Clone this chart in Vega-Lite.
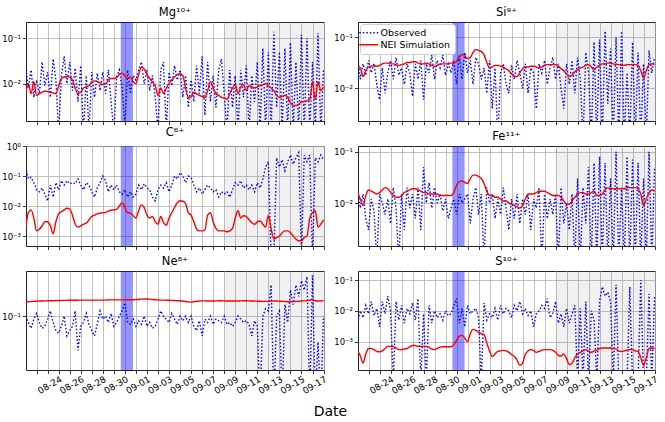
{
"$schema": "https://vega.github.io/schema/vega-lite/v6.json",
"padding": {"left": 1, "top": 6, "right": 9, "bottom": 6},
"bounds": "flush",
"columns": 2,
"spacing": {"row": 25, "column": 34},
"resolve": {"scale": {"color": "independent", "strokeDash": "independent"}},
"title": {"text": "Date", "orient": "bottom", "anchor": "middle", "fontSize": 14, "fontWeight": "normal", "offset": 9, "color": "#000"},
"config": {
  "font": "DejaVu Sans",
  "view": {"stroke": "#222", "strokeWidth": 1},
  "axis": {"labelColor": "#000", "tickColor": "#000", "gridColor": "#b0b0b0", "gridWidth": 0.8, "tickSize": 3.5, "tickWidth": 0.8, "labelFontSize": 8.5, "labelPadding": 2, "domain": false, "title": null, "labelOverlap": false, "labelBound": false},
  "axisX": {"labelOverlap": false, "tickCount": 40},
  "title": {"fontSize": 11.5, "fontWeight": "normal", "offset": 4, "color": "#000"},
  "legend": {"fillColor": "white", "strokeColor": "#cccccc", "cornerRadius": 3, "padding": 4, "labelFontSize": 9.5, "symbolSize": 49, "symbolType": "M-2.7,0H2.7", "symbolStrokeWidth": 1.5, "rowPadding": 1, "offset": 2, "labelLimit": 200, "labelColor": "#000", "labelOffset": 7}
},
"datasets": {
"gray": [{"a": "2020-09-08T00:00Z", "b": "2020-09-17T12:00Z"}],
"band": [{"a": "2020-08-29T15:00Z", "b": "2020-08-30T17:30Z"}],
"ions": [
{"t":"2020-08-21T00:00Z","Mg":0.025,"Mg_s":0.006,"Si":0.045,"Si_s":0.026,"C":0.2,"C_s":0.0017,"Fe":0.02,"Fe_s":0.016,"Ne":0.1,"Ne_s":0.165,"S":0.004,"S_s":0.0005},
{"t":"2020-08-21T06:00Z","Mg":0.008,"Mg_s":0.01,"Si":0.015,"Si_s":0.025,"C":0.08,"C_s":0.006,"Fe":0.008,"Fe_s":0.012,"Ne":0.08,"Ne_s":0.166,"S":0.01,"S_s":0.00035},
{"t":"2020-08-21T12:00Z","Mg":0.02,"Mg_s":0.006,"Si":0.03,"Si_s":0.017,"C":0.09,"C_s":0.0075,"Fe":0.015,"Fe_s":0.009,"Ne":0.065,"Ne_s":0.167,"S":0.006,"S_s":0.0002},
{"t":"2020-08-21T18:00Z","Mg":0.005,"Mg_s":0.011,"Si":0.018,"Si_s":0.022,"C":0.06,"C_s":0.004,"Fe":0.005,"Fe_s":0.014,"Ne":0.09,"Ne_s":0.168,"S":0.015,"S_s":0.0004},
{"t":"2020-08-22T00:00Z","Mg":0.012,"Mg_s":0.0055,"Si":0.035,"Si_s":0.026,"C":0.035,"C_s":0.0015,"Fe":0.003,"Fe_s":0.018,"Ne":0.11,"Ne_s":0.169,"S":0.008,"S_s":0.0006},
{"t":"2020-08-22T06:00Z","Mg":0.006,"Mg_s":0.006,"Si":0.02,"Si_s":0.027,"C":0.03,"C_s":0.0017,"Fe":0.012,"Fe_s":0.017,"Ne":0.08,"Ne_s":0.17,"S":0.02,"S_s":0.0006},
{"t":"2020-08-22T12:00Z","Mg":0.03,"Mg_s":0.0065,"Si":0.03,"Si_s":0.028,"C":0.04,"C_s":0.0022,"Fe":0.007,"Fe_s":0.016,"Ne":0.065,"Ne_s":0.17,"S":0.007,"S_s":0.00055},
{"t":"2020-08-22T18:00Z","Mg":0.009,"Mg_s":0.0068,"Si":0.012,"Si_s":0.027,"C":0.025,"C_s":0.003,"Fe":0.0007,"Fe_s":0.015,"Ne":0.07,"Ne_s":0.171,"S":0.012,"S_s":0.00048},
{"t":"2020-08-23T00:00Z","Mg":0.018,"Mg_s":0.0067,"Si":0.006,"Si_s":0.028,"C":0.015,"C_s":0.003,"Fe":0.015,"Fe_s":0.016,"Ne":0.09,"Ne_s":0.172,"S":0.003,"S_s":0.00047},
{"t":"2020-08-23T06:00Z","Mg":0.005,"Mg_s":0.0065,"Si":0.025,"Si_s":0.03,"C":0.05,"C_s":0.0022,"Fe":0.01,"Fe_s":0.018,"Ne":0.12,"Ne_s":0.172,"S":0.02,"S_s":0.0005},
{"t":"2020-08-23T12:00Z","Mg":0.035,"Mg_s":0.0062,"Si":0.008,"Si_s":0.031,"C":0.02,"C_s":0.0012,"Fe":0.006,"Fe_s":0.02,"Ne":0.08,"Ne_s":0.172,"S":0.008,"S_s":0.0006},
{"t":"2020-08-23T18:00Z","Mg":0.012,"Mg_s":0.006,"Si":0.02,"Si_s":0.031,"C":0.06,"C_s":0.003,"Fe":0.012,"Fe_s":0.019,"Ne":0.06,"Ne_s":0.173,"S":0.03,"S_s":0.0007},
{"t":"2020-08-24T00:00Z","Mg":0.0008,"Mg_s":0.009,"Si":0.035,"Si_s":0.03,"C":0.035,"C_s":0.0055,"Fe":0.004,"Fe_s":0.016,"Ne":0.055,"Ne_s":0.173,"S":0.01,"S_s":0.0007},
{"t":"2020-08-24T06:00Z","Mg":0.015,"Mg_s":0.013,"Si":0.015,"Si_s":0.03,"C":0.07,"C_s":0.0065,"Fe":0.02,"Fe_s":0.014,"Ne":0.07,"Ne_s":0.174,"S":0.00005,"S_s":0.00068},
{"t":"2020-08-24T12:00Z","Mg":0.04,"Mg_s":0.014,"Si":0.04,"Si_s":0.029,"C":0.05,"C_s":0.0075,"Fe":0.008,"Fe_s":0.013,"Ne":0.1,"Ne_s":0.174,"S":0.02,"S_s":0.00062},
{"t":"2020-08-24T18:00Z","Mg":0.01,"Mg_s":0.0145,"Si":0.018,"Si_s":0.028,"C":0.07,"C_s":0.0085,"Fe":0.0007,"Fe_s":0.013,"Ne":0.05,"Ne_s":0.174,"S":0.005,"S_s":0.00055},
{"t":"2020-08-25T00:00Z","Mg":0.03,"Mg_s":0.014,"Si":0.025,"Si_s":0.029,"C":0.055,"C_s":0.008,"Fe":0.015,"Fe_s":0.014,"Ne":0.06,"Ne_s":0.175,"S":0.015,"S_s":0.00055},
{"t":"2020-08-25T06:00Z","Mg":0.007,"Mg_s":0.012,"Si":0.012,"Si_s":0.03,"C":0.06,"C_s":0.005,"Fe":0.003,"Fe_s":0.016,"Ne":0.07,"Ne_s":0.175,"S":0.004,"S_s":0.00058},
{"t":"2020-08-25T12:00Z","Mg":0.022,"Mg_s":0.008,"Si":0.03,"Si_s":0.032,"C":0.055,"C_s":0.0025,"Fe":0.02,"Fe_s":0.017,"Ne":0.12,"Ne_s":0.175,"S":0.012,"S_s":0.0006},
{"t":"2020-08-25T18:00Z","Mg":0.004,"Mg_s":0.006,"Si":0.02,"Si_s":0.032,"C":0.08,"C_s":0.002,"Fe":0.008,"Fe_s":0.018,"Ne":0.03,"Ne_s":0.175,"S":0.008,"S_s":0.00068},
{"t":"2020-08-26T00:00Z","Mg":0.025,"Mg_s":0.0065,"Si":0.007,"Si_s":0.033,"C":0.05,"C_s":0.0022,"Fe":0.015,"Fe_s":0.019,"Ne":0.07,"Ne_s":0.176,"S":0.018,"S_s":0.00075},
{"t":"2020-08-26T06:00Z","Mg":0.0008,"Mg_s":0.008,"Si":0.03,"Si_s":0.033,"C":0.035,"C_s":0.0025,"Fe":0.005,"Fe_s":0.019,"Ne":0.08,"Ne_s":0.176,"S":0.005,"S_s":0.00075},
{"t":"2020-08-26T12:00Z","Mg":0.015,"Mg_s":0.0085,"Si":0.015,"Si_s":0.031,"C":0.06,"C_s":0.0027,"Fe":0.02,"Fe_s":0.018,"Ne":0.11,"Ne_s":0.176,"S":0.025,"S_s":0.0007},
{"t":"2020-08-26T18:00Z","Mg":0.0009,"Mg_s":0.009,"Si":0.035,"Si_s":0.03,"C":0.05,"C_s":0.0035,"Fe":0.003,"Fe_s":0.017,"Ne":0.075,"Ne_s":0.176,"S":0.00005,"S_s":0.0007},
{"t":"2020-08-27T00:00Z","Mg":0.018,"Mg_s":0.011,"Si":0.006,"Si_s":0.03,"C":0.03,"C_s":0.0045,"Fe":0.05,"Fe_s":0.016,"Ne":0.06,"Ne_s":0.176,"S":0.008,"S_s":0.0007},
{"t":"2020-08-27T06:00Z","Mg":0.005,"Mg_s":0.0115,"Si":0.03,"Si_s":0.031,"C":0.02,"C_s":0.005,"Fe":0.01,"Fe_s":0.016,"Ne":0.05,"Ne_s":0.176,"S":0.00005,"S_s":0.0007},
{"t":"2020-08-27T12:00Z","Mg":0.017,"Mg_s":0.011,"Si":0.02,"Si_s":0.03,"C":0.04,"C_s":0.0055,"Fe":0.025,"Fe_s":0.015,"Ne":0.075,"Ne_s":0.176,"S":0.015,"S_s":0.00065},
{"t":"2020-08-27T18:00Z","Mg":0.007,"Mg_s":0.0105,"Si":0.045,"Si_s":0.028,"C":0.06,"C_s":0.0058,"Fe":0.008,"Fe_s":0.015,"Ne":0.12,"Ne_s":0.176,"S":0.004,"S_s":0.00057},
{"t":"2020-08-28T00:00Z","Mg":0.018,"Mg_s":0.0095,"Si":0.015,"Si_s":0.027,"C":0.1,"C_s":0.006,"Fe":0.02,"Fe_s":0.015,"Ne":0.09,"Ne_s":0.176,"S":0.01,"S_s":0.00055},
{"t":"2020-08-28T06:00Z","Mg":0.006,"Mg_s":0.01,"Si":0.035,"Si_s":0.028,"C":0.07,"C_s":0.0062,"Fe":0.01,"Fe_s":0.015,"Ne":0.1,"Ne_s":0.176,"S":0.006,"S_s":0.0006},
{"t":"2020-08-28T12:00Z","Mg":0.02,"Mg_s":0.012,"Si":0.025,"Si_s":0.03,"C":0.03,"C_s":0.0068,"Fe":0.015,"Fe_s":0.014,"Ne":0.08,"Ne_s":0.177,"S":0.008,"S_s":0.00066},
{"t":"2020-08-28T18:00Z","Mg":0.004,"Mg_s":0.013,"Si":0.045,"Si_s":0.03,"C":0.05,"C_s":0.0073,"Fe":0.007,"Fe_s":0.014,"Ne":0.11,"Ne_s":0.177,"S":0.005,"S_s":0.00068},
{"t":"2020-08-29T00:00Z","Mg":0.0009,"Mg_s":0.013,"Si":0.018,"Si_s":0.03,"C":0.035,"C_s":0.0075,"Fe":0.012,"Fe_s":0.014,"Ne":0.07,"Ne_s":0.177,"S":0.01,"S_s":0.00068},
{"t":"2020-08-29T06:00Z","Mg":0.014,"Mg_s":0.0135,"Si":0.03,"Si_s":0.03,"C":0.05,"C_s":0.0078,"Fe":0.005,"Fe_s":0.014,"Ne":0.08,"Ne_s":0.177,"S":0.007,"S_s":0.00068},
{"t":"2020-08-29T12:00Z","Mg":0.02,"Mg_s":0.016,"Si":0.02,"Si_s":0.031,"C":0.03,"C_s":0.01,"Fe":0.008,"Fe_s":0.014,"Ne":0.1,"Ne_s":0.177,"S":0.008,"S_s":0.00068},
{"t":"2020-08-29T18:00Z","Mg":0.008,"Mg_s":0.017,"Si":0.035,"Si_s":0.031,"C":0.025,"C_s":0.013,"Fe":0.012,"Fe_s":0.016,"Ne":0.12,"Ne_s":0.177,"S":0.015,"S_s":0.0008},
{"t":"2020-08-30T00:00Z","Mg":0.0012,"Mg_s":0.015,"Si":0.012,"Si_s":0.034,"C":0.035,"C_s":0.009,"Fe":0.006,"Fe_s":0.022,"Ne":0.16,"Ne_s":0.178,"S":0.025,"S_s":0.0011},
{"t":"2020-08-30T06:00Z","Mg":0.02,"Mg_s":0.013,"Si":0.045,"Si_s":0.04,"C":0.02,"C_s":0.006,"Fe":0.015,"Fe_s":0.026,"Ne":0.08,"Ne_s":0.178,"S":0.004,"S_s":0.0015},
{"t":"2020-08-30T12:00Z","Mg":0.006,"Mg_s":0.014,"Si":0.015,"Si_s":0.046,"C":0.03,"C_s":0.0058,"Fe":0.01,"Fe_s":0.027,"Ne":0.075,"Ne_s":0.178,"S":0.012,"S_s":0.0016},
{"t":"2020-08-30T18:00Z","Mg":0.015,"Mg_s":0.011,"Si":0.05,"Si_s":0.043,"C":0.02,"C_s":0.0048,"Fe":0.012,"Fe_s":0.025,"Ne":0.09,"Ne_s":0.178,"S":0.003,"S_s":0.0013},
{"t":"2020-08-31T00:00Z","Mg":0.012,"Mg_s":0.01,"Si":0.02,"Si_s":0.038,"C":0.025,"C_s":0.004,"Fe":0.015,"Fe_s":0.024,"Ne":0.07,"Ne_s":0.179,"S":0.015,"S_s":0.001},
{"t":"2020-08-31T06:00Z","Mg":0.02,"Mg_s":0.016,"Si":0.035,"Si_s":0.04,"C":0.05,"C_s":0.007,"Fe":0.004,"Fe_s":0.03,"Ne":0.085,"Ne_s":0.18,"S":0.008,"S_s":0.0018},
{"t":"2020-08-31T12:00Z","Mg":0.03,"Mg_s":0.023,"Si":0.012,"Si_s":0.05,"C":0.035,"C_s":0.011,"Fe":0.012,"Fe_s":0.035,"Ne":0.075,"Ne_s":0.182,"S":0.01,"S_s":0.0025},
{"t":"2020-08-31T18:00Z","Mg":0.01,"Mg_s":0.021,"Si":0.04,"Si_s":0.057,"C":0.055,"C_s":0.009,"Fe":0.02,"Fe_s":0.035,"Ne":0.1,"Ne_s":0.183,"S":0.012,"S_s":0.0023},
{"t":"2020-09-01T00:00Z","Mg":0.02,"Mg_s":0.016,"Si":0.03,"Si_s":0.055,"C":0.04,"C_s":0.005,"Fe":0.006,"Fe_s":0.033,"Ne":0.07,"Ne_s":0.183,"S":0.006,"S_s":0.002},
{"t":"2020-09-01T06:00Z","Mg":0.007,"Mg_s":0.013,"Si":0.015,"Si_s":0.052,"C":0.035,"C_s":0.004,"Fe":0.015,"Fe_s":0.03,"Ne":0.08,"Ne_s":0.182,"S":0.00005,"S_s":0.0018},
{"t":"2020-09-01T12:00Z","Mg":0.015,"Mg_s":0.011,"Si":0.025,"Si_s":0.045,"C":0.02,"C_s":0.0045,"Fe":0.0007,"Fe_s":0.024,"Ne":0.065,"Ne_s":0.18,"S":0.018,"S_s":0.0017},
{"t":"2020-09-01T18:00Z","Mg":0.005,"Mg_s":0.009,"Si":0.008,"Si_s":0.032,"C":0.015,"C_s":0.003,"Fe":0.02,"Fe_s":0.017,"Ne":0.07,"Ne_s":0.178,"S":0.005,"S_s":0.0009},
{"t":"2020-09-02T00:00Z","Mg":0.0009,"Mg_s":0.0055,"Si":0.035,"Si_s":0.025,"C":0.035,"C_s":0.0025,"Fe":0.01,"Fe_s":0.014,"Ne":0.09,"Ne_s":0.177,"S":0.008,"S_s":0.0005},
{"t":"2020-09-02T06:00Z","Mg":0.02,"Mg_s":0.008,"Si":0.004,"Si_s":0.026,"C":0.05,"C_s":0.0045,"Fe":0.015,"Fe_s":0.014,"Ne":0.12,"Ne_s":0.176,"S":0.006,"S_s":0.00033},
{"t":"2020-09-02T12:00Z","Mg":0.03,"Mg_s":0.006,"Si":0.025,"Si_s":0.028,"C":0.04,"C_s":0.0028,"Fe":0.005,"Fe_s":0.013,"Ne":0.1,"Ne_s":0.176,"S":0.012,"S_s":0.0004},
{"t":"2020-09-02T18:00Z","Mg":0.0009,"Mg_s":0.008,"Si":0.001,"Si_s":0.028,"C":0.06,"C_s":0.0023,"Fe":0.012,"Fe_s":0.013,"Ne":0.09,"Ne_s":0.175,"S":0.005,"S_s":0.00048},
{"t":"2020-09-03T00:00Z","Mg":0.018,"Mg_s":0.01,"Si":0.02,"Si_s":0.027,"C":0.03,"C_s":0.004,"Fe":0.006,"Fe_s":0.012,"Ne":0.08,"Ne_s":0.175,"S":0.015,"S_s":0.0005},
{"t":"2020-09-03T06:00Z","Mg":0.009,"Mg_s":0.012,"Si":0.03,"Si_s":0.026,"C":0.05,"C_s":0.006,"Fe":0.02,"Fe_s":0.011,"Ne":0.11,"Ne_s":0.174,"S":0.008,"S_s":0.00052},
{"t":"2020-09-03T12:00Z","Mg":0.025,"Mg_s":0.014,"Si":0.012,"Si_s":0.024,"C":0.1,"C_s":0.009,"Fe":0.008,"Fe_s":0.011,"Ne":0.09,"Ne_s":0.173,"S":0.012,"S_s":0.0005},
{"t":"2020-09-03T18:00Z","Mg":0.012,"Mg_s":0.016,"Si":0.008,"Si_s":0.022,"C":0.08,"C_s":0.013,"Fe":0.003,"Fe_s":0.01,"Ne":0.075,"Ne_s":0.172,"S":0.01,"S_s":0.00045},
{"t":"2020-09-04T00:00Z","Mg":0.02,"Mg_s":0.0165,"Si":0.028,"Si_s":0.019,"C":0.13,"C_s":0.015,"Fe":0.012,"Fe_s":0.0095,"Ne":0.1,"Ne_s":0.172,"S":0.006,"S_s":0.00038},
{"t":"2020-09-04T06:00Z","Mg":0.005,"Mg_s":0.015,"Si":0.015,"Si_s":0.017,"C":0.1,"C_s":0.0145,"Fe":0.005,"Fe_s":0.009,"Ne":0.085,"Ne_s":0.17,"S":0.015,"S_s":0.00033},
{"t":"2020-09-04T12:00Z","Mg":0.015,"Mg_s":0.008,"Si":0.035,"Si_s":0.017,"C":0.06,"C_s":0.012,"Fe":0.015,"Fe_s":0.0085,"Ne":0.1,"Ne_s":0.167,"S":0.01,"S_s":0.00025},
{"t":"2020-09-04T18:00Z","Mg":0.003,"Mg_s":0.005,"Si":0.02,"Si_s":0.02,"C":0.1,"C_s":0.006,"Fe":0.004,"Fe_s":0.008,"Ne":0.08,"Ne_s":0.165,"S":0.02,"S_s":0.00017},
{"t":"2020-09-05T00:00Z","Mg":0.012,"Mg_s":0.0052,"Si":0.01,"Si_s":0.024,"C":0.09,"C_s":0.005,"Fe":0.012,"Fe_s":0.009,"Ne":0.1,"Ne_s":0.164,"S":0.008,"S_s":0.0002},
{"t":"2020-09-05T06:00Z","Mg":0.004,"Mg_s":0.0065,"Si":0.03,"Si_s":0.026,"C":0.05,"C_s":0.003,"Fe":0.006,"Fe_s":0.012,"Ne":0.07,"Ne_s":0.166,"S":0.012,"S_s":0.00038},
{"t":"2020-09-05T12:00Z","Mg":0.025,"Mg_s":0.006,"Si":0.008,"Si_s":0.026,"C":0.03,"C_s":0.0017,"Fe":0.015,"Fe_s":0.015,"Ne":0.06,"Ne_s":0.168,"S":0.007,"S_s":0.0005},
{"t":"2020-09-05T18:00Z","Mg":0.006,"Mg_s":0.0055,"Si":0.025,"Si_s":0.027,"C":0.04,"C_s":0.0015,"Fe":0.003,"Fe_s":0.015,"Ne":0.085,"Ne_s":0.17,"S":0.01,"S_s":0.00055},
{"t":"2020-09-06T00:00Z","Mg":0.04,"Mg_s":0.0052,"Si":0.02,"Si_s":0.027,"C":0.025,"C_s":0.0015,"Fe":0.012,"Fe_s":0.015,"Ne":0.05,"Ne_s":0.171,"S":0.003,"S_s":0.00052},
{"t":"2020-09-06T06:00Z","Mg":0.002,"Mg_s":0.005,"Si":0.004,"Si_s":0.026,"C":0.035,"C_s":0.0016,"Fe":0.008,"Fe_s":0.016,"Ne":0.09,"Ne_s":0.171,"S":0.008,"S_s":0.00045},
{"t":"2020-09-06T12:00Z","Mg":0.03,"Mg_s":0.007,"Si":0.03,"Si_s":0.025,"C":0.05,"C_s":0.005,"Fe":0.02,"Fe_s":0.017,"Ne":0.08,"Ne_s":0.17,"S":0.01,"S_s":0.00048},
{"t":"2020-09-06T18:00Z","Mg":0.004,"Mg_s":0.011,"Si":0.02,"Si_s":0.026,"C":0.04,"C_s":0.006,"Fe":0.0007,"Fe_s":0.017,"Ne":0.1,"Ne_s":0.17,"S":0.015,"S_s":0.00053},
{"t":"2020-09-07T00:00Z","Mg":0.015,"Mg_s":0.008,"Si":0.035,"Si_s":0.028,"C":0.03,"C_s":0.003,"Fe":0.015,"Fe_s":0.017,"Ne":0.075,"Ne_s":0.17,"S":0.012,"S_s":0.00055},
{"t":"2020-09-07T06:00Z","Mg":0.003,"Mg_s":0.006,"Si":0.012,"Si_s":0.029,"C":0.035,"C_s":0.0018,"Fe":0.005,"Fe_s":0.016,"Ne":0.09,"Ne_s":0.171,"S":0.025,"S_s":0.00055},
{"t":"2020-09-07T12:00Z","Mg":0.02,"Mg_s":0.0055,"Si":0.025,"Si_s":0.029,"C":0.02,"C_s":0.0015,"Fe":0.012,"Fe_s":0.015,"Ne":0.085,"Ne_s":0.172,"S":0.006,"S_s":0.00055},
{"t":"2020-09-07T18:00Z","Mg":0.035,"Mg_s":0.005,"Si":0.04,"Si_s":0.029,"C":0.03,"C_s":0.0015,"Fe":0.006,"Fe_s":0.014,"Ne":0.08,"Ne_s":0.172,"S":0.008,"S_s":0.00052},
{"t":"2020-09-08T00:00Z","Mg":0.006,"Mg_s":0.0048,"Si":0.015,"Si_s":0.029,"C":0.025,"C_s":0.0015,"Fe":0.015,"Fe_s":0.014,"Ne":0.1,"Ne_s":0.171,"S":0.02,"S_s":0.00045},
{"t":"2020-09-08T06:00Z","Mg":0.0009,"Mg_s":0.0045,"Si":0.03,"Si_s":0.027,"C":0.03,"C_s":0.0014,"Fe":0.0007,"Fe_s":0.014,"Ne":0.075,"Ne_s":0.17,"S":0.004,"S_s":0.00036},
{"t":"2020-09-08T12:00Z","Mg":0.02,"Mg_s":0.006,"Si":0.01,"Si_s":0.024,"C":0.02,"C_s":0.0015,"Fe":0.02,"Fe_s":0.013,"Ne":0.08,"Ne_s":0.17,"S":0.008,"S_s":0.00034},
{"t":"2020-09-08T18:00Z","Mg":0.003,"Mg_s":0.008,"Si":0.004,"Si_s":0.022,"C":0.035,"C_s":0.0018,"Fe":0.004,"Fe_s":0.011,"Ne":0.07,"Ne_s":0.17,"S":0.003,"S_s":0.0004},
{"t":"2020-09-09T00:00Z","Mg":0.015,"Mg_s":0.0095,"Si":0.03,"Si_s":0.019,"C":0.06,"C_s":0.004,"Fe":0.01,"Fe_s":0.0095,"Ne":0.08,"Ne_s":0.17,"S":0.012,"S_s":0.00028},
{"t":"2020-09-09T06:00Z","Mg":0.0009,"Mg_s":0.006,"Si":0.012,"Si_s":0.017,"C":0.05,"C_s":0.007,"Fe":0.003,"Fe_s":0.0095,"Ne":0.1,"Ne_s":0.17,"S":0.004,"S_s":0.00018},
{"t":"2020-09-09T12:00Z","Mg":0.02,"Mg_s":0.0085,"Si":0.035,"Si_s":0.018,"C":0.07,"C_s":0.004,"Fe":0.015,"Fe_s":0.011,"Ne":0.09,"Ne_s":0.171,"S":0.008,"S_s":0.0002},
{"t":"2020-09-09T18:00Z","Mg":0.005,"Mg_s":0.0095,"Si":0.008,"Si_s":0.021,"C":0.04,"C_s":0.0048,"Fe":0.0007,"Fe_s":0.013,"Ne":0.08,"Ne_s":0.172,"S":0.015,"S_s":0.0003},
{"t":"2020-09-10T00:00Z","Mg":0.025,"Mg_s":0.007,"Si":0.04,"Si_s":0.023,"C":0.05,"C_s":0.0045,"Fe":0.03,"Fe_s":0.015,"Ne":0.085,"Ne_s":0.172,"S":0.00005,"S_s":0.0004},
{"t":"2020-09-10T06:00Z","Mg":0.0009,"Mg_s":0.009,"Si":0.015,"Si_s":0.025,"C":0.035,"C_s":0.0035,"Fe":0.0007,"Fe_s":0.016,"Ne":0.075,"Ne_s":0.171,"S":0.012,"S_s":0.00045},
{"t":"2020-09-10T12:00Z","Mg":0.015,"Mg_s":0.0085,"Si":0.001,"Si_s":0.026,"C":0.05,"C_s":0.0028,"Fe":0.02,"Fe_s":0.016,"Ne":0.05,"Ne_s":0.17,"S":0.00005,"S_s":0.0005},
{"t":"2020-09-10T18:00Z","Mg":0.004,"Mg_s":0.008,"Si":0.05,"Si_s":0.028,"C":0.03,"C_s":0.0025,"Fe":0.004,"Fe_s":0.015,"Ne":0.085,"Ne_s":0.17,"S":0.02,"S_s":0.00055},
{"t":"2020-09-11T00:00Z","Mg":0.03,"Mg_s":0.0085,"Si":0.02,"Si_s":0.029,"C":0.06,"C_s":0.003,"Fe":0.05,"Fe_s":0.015,"Ne":0.07,"Ne_s":0.169,"S":0.00005,"S_s":0.00048},
{"t":"2020-09-11T06:00Z","Mg":0.0009,"Mg_s":0.009,"Si":0.001,"Si_s":0.026,"C":0.04,"C_s":0.0032,"Fe":0.0007,"Fe_s":0.016,"Ne":0.005,"Ne_s":0.169,"S":0.01,"S_s":0.00045},
{"t":"2020-09-11T12:00Z","Mg":0.06,"Mg_s":0.0095,"Si":0.08,"Si_s":0.023,"C":0.08,"C_s":0.0025,"Fe":0.06,"Fe_s":0.017,"Ne":0.1,"Ne_s":0.168,"S":0.005,"S_s":0.0005},
{"t":"2020-09-11T18:00Z","Mg":0.0009,"Mg_s":0.01,"Si":0.001,"Si_s":0.026,"C":0.2,"C_s":0.002,"Fe":0.0007,"Fe_s":0.014,"Ne":0.13,"Ne_s":0.168,"S":0.00005,"S_s":0.00052},
{"t":"2020-09-12T00:00Z","Mg":0.05,"Mg_s":0.009,"Si":0.09,"Si_s":0.028,"C":0.3,"C_s":0.005,"Fe":0.08,"Fe_s":0.014,"Ne":0.12,"Ne_s":0.168,"S":0.02,"S_s":0.0006},
{"t":"2020-09-12T06:00Z","Mg":0.0009,"Mg_s":0.008,"Si":0.001,"Si_s":0.03,"C":0.0002,"C_s":0.0018,"Fe":0.0007,"Fe_s":0.015,"Ne":0.3,"Ne_s":0.169,"S":0.06,"S_s":0.00062},
{"t":"2020-09-12T12:00Z","Mg":0.14,"Mg_s":0.007,"Si":0.13,"Si_s":0.03,"C":0.0002,"C_s":0.0008,"Fe":0.06,"Fe_s":0.018,"Ne":0.005,"Ne_s":0.17,"S":0.03,"S_s":0.00062},
{"t":"2020-09-12T18:00Z","Mg":0.003,"Mg_s":0.0055,"Si":0.005,"Si_s":0.031,"C":0.4,"C_s":0.0009,"Fe":0.0007,"Fe_s":0.02,"Ne":0.1,"Ne_s":0.17,"S":0.04,"S_s":0.00062},
{"t":"2020-09-13T00:00Z","Mg":0.05,"Mg_s":0.005,"Si":0.06,"Si_s":0.031,"C":0.2,"C_s":0.001,"Fe":0.03,"Fe_s":0.019,"Ne":0.12,"Ne_s":0.169,"S":0.02,"S_s":0.00062},
{"t":"2020-09-13T06:00Z","Mg":0.0009,"Mg_s":0.0052,"Si":0.001,"Si_s":0.03,"C":0.35,"C_s":0.0013,"Fe":0.0007,"Fe_s":0.019,"Ne":0.005,"Ne_s":0.168,"S":0.00005,"S_s":0.0006},
{"t":"2020-09-13T12:00Z","Mg":0.06,"Mg_s":0.0055,"Si":0.1,"Si_s":0.029,"C":0.15,"C_s":0.0015,"Fe":0.1,"Fe_s":0.019,"Ne":0.15,"Ne_s":0.167,"S":0.07,"S_s":0.00058},
{"t":"2020-09-13T18:00Z","Mg":0.0009,"Mg_s":0.005,"Si":0.001,"Si_s":0.029,"C":0.3,"C_s":0.0015,"Fe":0.0007,"Fe_s":0.019,"Ne":0.08,"Ne_s":0.166,"S":0.00005,"S_s":0.0005},
{"t":"2020-09-14T00:00Z","Mg":0.08,"Mg_s":0.0038,"Si":0.13,"Si_s":0.028,"C":0.5,"C_s":0.0013,"Fe":0.02,"Fe_s":0.019,"Ne":0.25,"Ne_s":0.166,"S":0.00005,"S_s":0.00048},
{"t":"2020-09-14T06:00Z","Mg":0.0009,"Mg_s":0.0033,"Si":0.001,"Si_s":0.028,"C":0.25,"C_s":0.001,"Fe":0.0007,"Fe_s":0.019,"Ne":0.15,"Ne_s":0.167,"S":0.00005,"S_s":0.0005},
{"t":"2020-09-14T12:00Z","Mg":0.03,"Mg_s":0.0033,"Si":0.02,"Si_s":0.029,"C":0.4,"C_s":0.0008,"Fe":0.08,"Fe_s":0.02,"Ne":0.3,"Ne_s":0.168,"S":0.00005,"S_s":0.00053},
{"t":"2020-09-14T18:00Z","Mg":0.0009,"Mg_s":0.0035,"Si":0.001,"Si_s":0.029,"C":0.6,"C_s":0.0007,"Fe":0.0007,"Fe_s":0.02,"Ne":0.2,"Ne_s":0.169,"S":0.06,"S_s":0.00055},
{"t":"2020-09-15T00:00Z","Mg":0.12,"Mg_s":0.004,"Si":0.08,"Si_s":0.029,"C":0.0002,"C_s":0.0007,"Fe":0.07,"Fe_s":0.02,"Ne":0.35,"Ne_s":0.17,"S":0.00005,"S_s":0.00055},
{"t":"2020-09-15T06:00Z","Mg":0.0009,"Mg_s":0.004,"Si":0.001,"Si_s":0.029,"C":0.5,"C_s":0.0009,"Fe":0.0007,"Fe_s":0.02,"Ne":0.25,"Ne_s":0.171,"S":0.00005,"S_s":0.0005},
{"t":"2020-09-15T12:00Z","Mg":0.1,"Mg_s":0.0042,"Si":0.05,"Si_s":0.028,"C":0.3,"C_s":0.001,"Fe":0.06,"Fe_s":0.019,"Ne":0.4,"Ne_s":0.172,"S":0.00005,"S_s":0.00048},
{"t":"2020-09-15T18:00Z","Mg":0.0009,"Mg_s":0.0045,"Si":0.001,"Si_s":0.022,"C":0.5,"C_s":0.004,"Fe":0.0007,"Fe_s":0.015,"Ne":0.005,"Ne_s":0.175,"S":0.1,"S_s":0.0003},
{"t":"2020-09-16T00:00Z","Mg":0.03,"Mg_s":0.011,"Si":0.03,"Si_s":0.016,"C":0.0002,"C_s":0.006,"Fe":0.03,"Fe_s":0.009,"Ne":0.42,"Ne_s":0.178,"S":0.00005,"S_s":0.00017},
{"t":"2020-09-16T06:00Z","Mg":0.0009,"Mg_s":0.0045,"Si":0.001,"Si_s":0.022,"C":0.4,"C_s":0.007,"Fe":0.0007,"Fe_s":0.012,"Ne":0.005,"Ne_s":0.172,"S":0.00005,"S_s":0.0003},
{"t":"2020-09-16T12:00Z","Mg":0.13,"Mg_s":0.011,"Si":0.055,"Si_s":0.029,"C":0.3,"C_s":0.002,"Fe":0.1,"Fe_s":0.016,"Ne":0.04,"Ne_s":0.17,"S":0.035,"S_s":0.0006},
{"t":"2020-09-16T18:00Z","Mg":0.0009,"Mg_s":0.007,"Si":0.02,"Si_s":0.03,"C":0.5,"C_s":0.0025,"Fe":0.0007,"Fe_s":0.018,"Ne":0.005,"Ne_s":0.171,"S":0.00005,"S_s":0.00062},
{"t":"2020-09-17T00:00Z","Mg":0.02,"Mg_s":0.0085,"Si":0.04,"Si_s":0.029,"C":0.35,"C_s":0.0035,"Fe":0.05,"Fe_s":0.017,"Ne":0.1,"Ne_s":0.172,"S":0.03,"S_s":0.0006}
]
},
"data": {"name": "ions"},
"concat": [
{"title": "Mg¹⁰⁺", "width": 298, "height": 99, "layer": [
 {"data": {"name": "gray"}, "mark": {"type": "rect", "color": "gray", "opacity": 0.12, "clip": true}, "encoding": {"x": {"field": "a", "type": "temporal", "scale": {"type": "utc", "domain": [1597971600000, 1600304400000], "nice": false}, "axis": {"values": [1598054400000,1598140800000,1598227200000,1598313600000,1598400000000,1598486400000,1598572800000,1598659200000,1598745600000,1598832000000,1598918400000,1599004800000,1599091200000,1599177600000,1599264000000,1599350400000,1599436800000,1599523200000,1599609600000,1599696000000,1599782400000,1599868800000,1599955200000,1600041600000,1600128000000,1600214400000,1600300800000], "tickCount": 40, "labels": false, "grid": true}}, "x2": {"field": "b"}}},
 {"data": {"name": "band"}, "mark": {"type": "rect", "color": "blue", "opacity": 0.42, "clip": true}, "encoding": {"x": {"field": "a", "type": "temporal"}, "x2": {"field": "b"}}},
 {"mark": {"type": "line", "color": "blue", "strokeDash": [1.5, 2], "strokeWidth": 1.4, "clip": true}, "encoding": {"x": {"field": "t", "type": "temporal"}, "y": {"field": "Mg", "type": "quantitative", "scale": {"type": "log", "domain": [0.0015, 0.229], "nice": false}, "axis": {"values": [0.01, 0.1], "grid": true, "labelExpr": "datum.value >= 0.5 ? '10⁰' : datum.value >= 0.05 ? '10⁻¹' : datum.value >= 0.005 ? '10⁻²' : '10⁻³'"}}}},
 {"mark": {"type": "line", "color": "red", "strokeWidth": 1.4, "clip": true, "interpolate": "monotone"}, "encoding": {"x": {"field": "t", "type": "temporal"}, "y": {"field": "Mg_s", "type": "quantitative"}}}
]},
{"title": "Si⁹⁺", "width": 297, "height": 99, "layer": [
 {"data": {"name": "gray"}, "mark": {"type": "rect", "color": "gray", "opacity": 0.12, "clip": true}, "encoding": {"x": {"field": "a", "type": "temporal", "scale": {"type": "utc", "domain": [1597971600000, 1600304400000], "nice": false}, "axis": {"values": [1598054400000,1598140800000,1598227200000,1598313600000,1598400000000,1598486400000,1598572800000,1598659200000,1598745600000,1598832000000,1598918400000,1599004800000,1599091200000,1599177600000,1599264000000,1599350400000,1599436800000,1599523200000,1599609600000,1599696000000,1599782400000,1599868800000,1599955200000,1600041600000,1600128000000,1600214400000,1600300800000], "tickCount": 40, "labels": false, "grid": true}}, "x2": {"field": "b"}}},
 {"data": {"name": "band"}, "mark": {"type": "rect", "color": "blue", "opacity": 0.42, "clip": true}, "encoding": {"x": {"field": "a", "type": "temporal"}, "x2": {"field": "b"}}},
 {"mark": {"type": "line", "strokeWidth": 1.4, "clip": true}, "encoding": {"x": {"field": "t", "type": "temporal"}, "y": {"field": "Si", "type": "quantitative", "scale": {"type": "log", "domain": [0.0023, 0.197], "nice": false}, "axis": {"values": [0.01, 0.1], "grid": true, "labelExpr": "datum.value >= 0.5 ? '10⁰' : datum.value >= 0.05 ? '10⁻¹' : datum.value >= 0.005 ? '10⁻²' : '10⁻³'"}},
   "color": {"datum": "Observed", "scale": {"domain": ["Observed", "NEI Simulation"], "range": ["blue", "red"]}, "legend": {"orient": "top-left", "title": null}},
   "strokeDash": {"datum": "Observed", "scale": {"domain": ["Observed", "NEI Simulation"], "range": [[1.5, 2], [1, 0]]}, "legend": {"orient": "top-left", "title": null}}}},
 {"mark": {"type": "line", "strokeWidth": 1.4, "clip": true, "interpolate": "monotone"}, "encoding": {"x": {"field": "t", "type": "temporal"}, "y": {"field": "Si_s", "type": "quantitative"},
   "color": {"datum": "NEI Simulation"}, "strokeDash": {"datum": "NEI Simulation"}}}
]},
{"title": "C⁶⁺", "width": 298, "height": 100, "layer": [
 {"data": {"name": "gray"}, "mark": {"type": "rect", "color": "gray", "opacity": 0.12, "clip": true}, "encoding": {"x": {"field": "a", "type": "temporal", "scale": {"type": "utc", "domain": [1597971600000, 1600304400000], "nice": false}, "axis": {"values": [1598054400000,1598140800000,1598227200000,1598313600000,1598400000000,1598486400000,1598572800000,1598659200000,1598745600000,1598832000000,1598918400000,1599004800000,1599091200000,1599177600000,1599264000000,1599350400000,1599436800000,1599523200000,1599609600000,1599696000000,1599782400000,1599868800000,1599955200000,1600041600000,1600128000000,1600214400000,1600300800000], "tickCount": 40, "labels": false, "grid": true}}, "x2": {"field": "b"}}},
 {"data": {"name": "band"}, "mark": {"type": "rect", "color": "blue", "opacity": 0.42, "clip": true}, "encoding": {"x": {"field": "a", "type": "temporal"}, "x2": {"field": "b"}}},
 {"mark": {"type": "line", "color": "blue", "strokeDash": [1.5, 2], "strokeWidth": 1.4, "clip": true}, "encoding": {"x": {"field": "t", "type": "temporal"}, "y": {"field": "C", "type": "quantitative", "scale": {"type": "log", "domain": [0.00047, 1], "nice": false}, "axis": {"values": [0.001, 0.01, 0.1, 1], "grid": true, "labelExpr": "datum.value >= 0.5 ? '10⁰' : datum.value >= 0.05 ? '10⁻¹' : datum.value >= 0.005 ? '10⁻²' : '10⁻³'"}}}},
 {"mark": {"type": "line", "color": "red", "strokeWidth": 1.4, "clip": true, "interpolate": "monotone"}, "encoding": {"x": {"field": "t", "type": "temporal"}, "y": {"field": "C_s", "type": "quantitative"}}}
]},
{"title": "Fe¹¹⁺", "width": 297, "height": 100, "layer": [
 {"data": {"name": "gray"}, "mark": {"type": "rect", "color": "gray", "opacity": 0.12, "clip": true}, "encoding": {"x": {"field": "a", "type": "temporal", "scale": {"type": "utc", "domain": [1597971600000, 1600304400000], "nice": false}, "axis": {"values": [1598054400000,1598140800000,1598227200000,1598313600000,1598400000000,1598486400000,1598572800000,1598659200000,1598745600000,1598832000000,1598918400000,1599004800000,1599091200000,1599177600000,1599264000000,1599350400000,1599436800000,1599523200000,1599609600000,1599696000000,1599782400000,1599868800000,1599955200000,1600041600000,1600128000000,1600214400000,1600300800000], "tickCount": 40, "labels": false, "grid": true}}, "x2": {"field": "b"}}},
 {"data": {"name": "band"}, "mark": {"type": "rect", "color": "blue", "opacity": 0.42, "clip": true}, "encoding": {"x": {"field": "a", "type": "temporal"}, "x2": {"field": "b"}}},
 {"mark": {"type": "line", "color": "blue", "strokeDash": [1.5, 2], "strokeWidth": 1.4, "clip": true}, "encoding": {"x": {"field": "t", "type": "temporal"}, "y": {"field": "Fe", "type": "quantitative", "scale": {"type": "log", "domain": [0.00146, 0.129], "nice": false}, "axis": {"values": [0.01, 0.1], "grid": true, "labelExpr": "datum.value >= 0.5 ? '10⁰' : datum.value >= 0.05 ? '10⁻¹' : datum.value >= 0.005 ? '10⁻²' : '10⁻³'"}}}},
 {"mark": {"type": "line", "color": "red", "strokeWidth": 1.4, "clip": true, "interpolate": "monotone"}, "encoding": {"x": {"field": "t", "type": "temporal"}, "y": {"field": "Fe_s", "type": "quantitative"}}}
]},
{"title": "Ne⁸⁺", "width": 298, "height": 99, "layer": [
 {"data": {"name": "gray"}, "mark": {"type": "rect", "color": "gray", "opacity": 0.12, "clip": true}, "encoding": {"x": {"field": "a", "type": "temporal", "scale": {"type": "utc", "domain": [1597971600000, 1600304400000], "nice": false}, "axis": {"values": [1598054400000,1598140800000,1598227200000,1598313600000,1598400000000,1598486400000,1598572800000,1598659200000,1598745600000,1598832000000,1598918400000,1599004800000,1599091200000,1599177600000,1599264000000,1599350400000,1599436800000,1599523200000,1599609600000,1599696000000,1599782400000,1599868800000,1599955200000,1600041600000,1600128000000,1600214400000,1600300800000], "tickCount": 40, "grid": true, "labelAngle": -30, "labelAlign": "right", "labelBaseline": "top", "labelPadding": 1, "labelOverlap": false, "labelFlush": false, "labelFontSize": 9, "labelExpr": "(utcmonth(datum.value) == 7 && utcdate(datum.value) >= 24 && utcdate(datum.value) % 2 == 0) || (utcmonth(datum.value) == 8 && utcdate(datum.value) % 2 == 1) ? utcFormat(datum.value, '%m-%d') : ''"}}, "x2": {"field": "b"}}},
 {"data": {"name": "band"}, "mark": {"type": "rect", "color": "blue", "opacity": 0.42, "clip": true}, "encoding": {"x": {"field": "a", "type": "temporal"}, "x2": {"field": "b"}}},
 {"mark": {"type": "line", "color": "blue", "strokeDash": [1.5, 2], "strokeWidth": 1.4, "clip": true}, "encoding": {"x": {"field": "t", "type": "temporal"}, "y": {"field": "Ne", "type": "quantitative", "scale": {"type": "log", "domain": [0.015, 0.49], "nice": false}, "axis": {"values": [0.1], "grid": true, "labelExpr": "datum.value >= 0.5 ? '10⁰' : datum.value >= 0.05 ? '10⁻¹' : datum.value >= 0.005 ? '10⁻²' : '10⁻³'"}}}},
 {"mark": {"type": "line", "color": "red", "strokeWidth": 1.4, "clip": true, "interpolate": "monotone"}, "encoding": {"x": {"field": "t", "type": "temporal"}, "y": {"field": "Ne_s", "type": "quantitative"}}}
]},
{"title": "S¹⁰⁺", "width": 297, "height": 99, "layer": [
 {"data": {"name": "gray"}, "mark": {"type": "rect", "color": "gray", "opacity": 0.12, "clip": true}, "encoding": {"x": {"field": "a", "type": "temporal", "scale": {"type": "utc", "domain": [1597971600000, 1600304400000], "nice": false}, "axis": {"values": [1598054400000,1598140800000,1598227200000,1598313600000,1598400000000,1598486400000,1598572800000,1598659200000,1598745600000,1598832000000,1598918400000,1599004800000,1599091200000,1599177600000,1599264000000,1599350400000,1599436800000,1599523200000,1599609600000,1599696000000,1599782400000,1599868800000,1599955200000,1600041600000,1600128000000,1600214400000,1600300800000], "tickCount": 40, "grid": true, "labelAngle": -30, "labelAlign": "right", "labelBaseline": "top", "labelPadding": 1, "labelOverlap": false, "labelFlush": false, "labelFontSize": 9, "labelExpr": "(utcmonth(datum.value) == 7 && utcdate(datum.value) >= 24 && utcdate(datum.value) % 2 == 0) || (utcmonth(datum.value) == 8 && utcdate(datum.value) % 2 == 1) ? utcFormat(datum.value, '%m-%d') : ''"}}, "x2": {"field": "b"}}},
 {"data": {"name": "band"}, "mark": {"type": "rect", "color": "blue", "opacity": 0.42, "clip": true}, "encoding": {"x": {"field": "a", "type": "temporal"}, "x2": {"field": "b"}}},
 {"mark": {"type": "line", "color": "blue", "strokeDash": [1.5, 2], "strokeWidth": 1.4, "clip": true}, "encoding": {"x": {"field": "t", "type": "temporal"}, "y": {"field": "S", "type": "quantitative", "scale": {"type": "log", "domain": [0.00012, 0.196], "nice": false}, "axis": {"values": [0.001, 0.01, 0.1], "grid": true, "labelExpr": "datum.value >= 0.5 ? '10⁰' : datum.value >= 0.05 ? '10⁻¹' : datum.value >= 0.005 ? '10⁻²' : '10⁻³'"}}}},
 {"mark": {"type": "line", "color": "red", "strokeWidth": 1.4, "clip": true, "interpolate": "monotone"}, "encoding": {"x": {"field": "t", "type": "temporal"}, "y": {"field": "S_s", "type": "quantitative"}}}
]}
]
}
